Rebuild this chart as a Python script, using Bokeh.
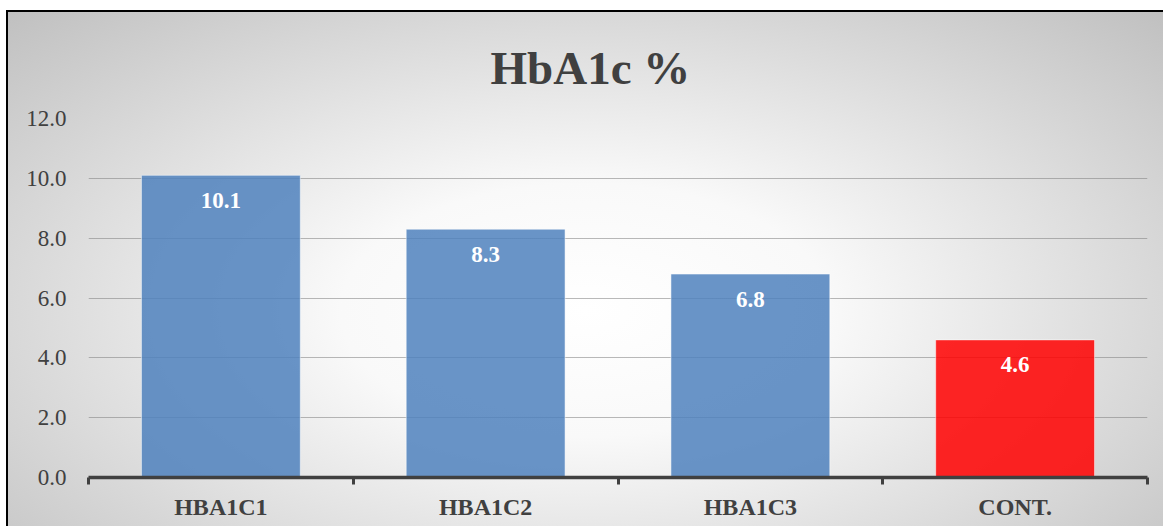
from bokeh.plotting import figure
from bokeh.models import (Range1d, LinearAxis, FixedTicker, NumeralTickFormatter, Title)
from bokeh.core.properties import value
from bokeh.embed import file_html
from bokeh.resources import INLINE

categories = ["HBA1C1", "HBA1C2", "HBA1C3", "CONT."]
values = [10.1, 8.3, 6.8, 4.6]
bar_colors = ["#4f81bd", "#4f81bd", "#4f81bd", "#ff0000"]
value_labels = [f"{v:.1f}" for v in values]
y_ticks = [0, 2, 4, 6, 8, 10, 12]
title_text = "HbA1c %"

SERIF = "'Liberation Serif', 'Times New Roman', serif"
TXT = "#404040"

n = len(categories)
xs = [i + 0.5 for i in range(n)]

p = figure(
    width=1157, height=516,
    x_range=Range1d(0, n),
    y_range=Range1d(0, y_ticks[-1]),
    x_axis_location=None, y_axis_location=None,
    output_backend="svg", toolbar_location=None,
    min_border_left=80, min_border_right=18, min_border_top=106, min_border_bottom=51,
    styles={
        "margin-left": "6px", "margin-top": "10px",
        "border-left": "2px solid #000", "border-top": "2px solid #000",
        "background": "radial-gradient(ellipse farthest-corner at 50% 58%, #ffffff 0%, #f9f9f9 30%, #c0c0c0 100%)",
    },
)
p.background_fill_alpha = 0
p.border_fill_alpha = 0
p.outline_line_color = None

t = Title(text=title_text, align="left", offset=402, standoff=46, vertical_align="top",
          text_font=SERIF, text_font_size="47px", text_font_style="bold", text_color=TXT)
p.add_layout(t, "above")

# y axis
ya = LinearAxis(ticker=FixedTicker(ticks=y_ticks), formatter=NumeralTickFormatter(format="0.0"))
ya.axis_line_color = None
ya.major_tick_line_color = None
ya.minor_tick_line_color = None
ya.major_label_text_font = SERIF
ya.major_label_text_font_size = "23px"
ya.major_label_text_color = TXT
ya.major_label_standoff = 16
p.add_layout(ya, "left")

# x axis: line and boundary ticks
bounds = list(range(n + 1))
xa_ticks = LinearAxis(ticker=FixedTicker(ticks=bounds),
                      major_label_overrides={b: "" for b in bounds})
xa_ticks.axis_line_color = TXT
xa_ticks.axis_line_width = 3.5
xa_ticks.major_tick_line_color = TXT
xa_ticks.major_tick_line_width = 3
xa_ticks.major_tick_in = 0
xa_ticks.major_tick_out = 7
xa_ticks.minor_tick_line_color = None
xa_ticks.major_label_text_font_size = "1px"
xa_ticks.major_label_standoff = 0
p.add_layout(xa_ticks, "below")

# x axis: category labels
xa = LinearAxis(ticker=FixedTicker(ticks=xs),
                major_label_overrides={x: c for x, c in zip(xs, categories)})
xa.axis_line_color = None
xa.major_tick_line_color = None
xa.minor_tick_line_color = None
xa.major_label_text_font = SERIF
xa.major_label_text_font_size = "24px"
xa.major_label_text_font_style = "bold"
xa.major_label_text_color = TXT
xa.major_label_standoff = 3
p.add_layout(xa, "below")

p.xgrid.grid_line_color = None
p.ygrid.ticker = FixedTicker(ticks=y_ticks)
p.ygrid.grid_line_color = "#7f7f7f"
p.ygrid.grid_line_alpha = 0.55
p.ygrid.grid_line_width = 1

p.vbar(x=xs, top=values, width=0.6, fill_color=bar_colors, fill_alpha=0.85,
       line_color="#ffffff", line_alpha=0.5, line_width=1)

p.text(x=xs, y=values, text=value_labels, text_align="center", text_baseline="middle",
       y_offset=25, text_font=value(SERIF), text_font_size="23px", text_font_style="bold",
       text_color="#ffffff")

open("out.html", "w").write(file_html(p, INLINE))
